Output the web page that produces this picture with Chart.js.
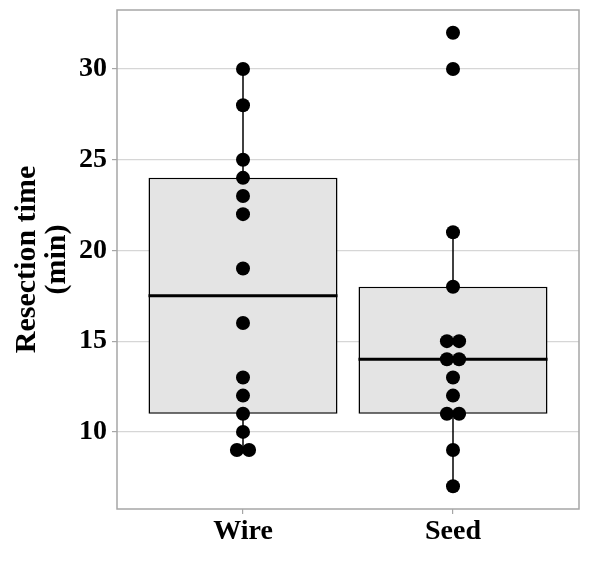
<!DOCTYPE html>
<html>
<head>
<meta charset="utf-8">
<script src="https://cdn.jsdelivr.net/npm/chart.js@4.4.1/dist/chart.umd.min.js"></script>
<style>
  body { margin: 0; background: #fff; }
  canvas { display: block; }
</style>
</head>
<body>
<canvas id="chart" width="590" height="561"></canvas>
<script>
const categories = ['Wire', 'Seed'];
const wireTimes = [30, 28, 25, 24, 23, 22, 19, 16, 13, 12, 11, 10, 9, 9];
const seedTimes = [32, 30, 21, 18, 15, 15, 14, 14, 13, 12, 11, 11, 9, 7];
const q1 = [11, 11];
const medians = [17.5, 14];
const q3 = [24, 18];
const whiskerLow = [9, 7];
const whiskerHigh = [30, 21];
const yTicks = [10, 15, 20, 25, 30];

const BOX_W = 0.9;
const DODGE = 0.058;
const FONT = 'Liberation Serif, Times New Roman, serif';

// dot positions: centre of group, duplicates spread side by side
function dotPoints(values, pos) {
    let pts = [];
    let counts = {};
    values.forEach(v => { counts[v] = (counts[v] || 0) + 1; });
    let seen = {};
    values.forEach(v => {
        let n = counts[v];
        let k = seen[v] || 0;
        seen[v] = k + 1;
        pts.push({x: pos + (k - (n - 1) / 2) * DODGE, y: v});
    });
    return pts;
}

let groups = [wireTimes, seedTimes];
let datasets = [];

categories.forEach((c, i) => {
    let pos = i + 1;
    datasets.push({
        type: 'line',
        data: [{x: pos, y: whiskerLow[i]}, {x: pos, y: whiskerHigh[i]}],
        borderColor: '#000',
        borderWidth: 1.5,
        pointRadius: 0,
        order: 4
    });
    datasets.push({
        type: 'line',
        data: [{x: pos - BOX_W / 2, y: medians[i]}, {x: pos + BOX_W / 2, y: medians[i]}],
        borderColor: '#000',
        borderWidth: 3,
        pointRadius: 0,
        order: 1
    });
    datasets.push({
        type: 'scatter',
        data: dotPoints(groups[i], pos),
        backgroundColor: '#000',
        borderColor: '#000',
        borderWidth: 0,
        pointRadius: 7,
        order: 0
    });
});

datasets.push({
    type: 'bar',
    data: categories.map((c, i) => ({x: i + 1, y: [q1[i], q3[i]]})),
    backgroundColor: '#e4e4e4',
    borderColor: '#000',
    borderWidth: 1.5,
    borderSkipped: false,
    barPercentage: BOX_W,
    categoryPercentage: 1,
    order: 2
});

const framePlugin = {
    id: 'frame',
    afterDraw(chart) {
        const a = chart.chartArea;
        const ctx = chart.ctx;
        ctx.save();
        ctx.strokeStyle = '#a6a6a6';
        ctx.lineWidth = 1.5;
        ctx.strokeRect(a.left, a.top, a.right - a.left, a.bottom - a.top);
        ctx.restore();
    }
};

new Chart(document.getElementById('chart').getContext('2d'), {
    type: 'bar',
    data: { datasets: datasets },
    plugins: [framePlugin],
    options: {
        responsive: false,
        animation: false,
        layout: { padding: { top: 10, right: 11, left: 0, bottom: 0 } },
        plugins: { legend: { display: false }, tooltip: { enabled: false } },
        scales: {
            x: {
                type: 'linear',
                min: 0.4,
                max: 2.6,
                offset: false,
                afterBuildTicks: s => { s.ticks = categories.map((c, i) => ({value: i + 1})); },
                afterFit: s => { s.height = 52; s.paddingLeft = 0; s.paddingRight = 0; },
                ticks: {
                    callback: v => categories[v - 1],
                    color: '#000',
                    font: { family: FONT, size: 28, weight: 'bold' },
                    padding: 1,
                    maxRotation: 0
                },
                grid: { offset: false, drawOnChartArea: false, drawTicks: true, tickLength: 5, tickColor: '#a6a6a6', lineWidth: 1.2 },
                border: { display: false }
            },
            y: {
                min: 5.75,
                max: 33.25,
                afterBuildTicks: s => { s.ticks = yTicks.map(v => ({value: v})); },
                afterFit: s => { s.width = 117; s.paddingTop = 0; s.paddingBottom = 0; },
                ticks: {
                    color: '#000',
                    font: { family: FONT, size: 28, weight: 'bold' },
                    padding: 5
                },
                grid: { color: '#d6d6d6', lineWidth: 1.2, tickLength: 5, tickColor: '#a6a6a6' },
                border: { display: false },
                title: {
                    display: true,
                    text: ['Resection time', '(min)'],
                    color: '#000',
                    font: { family: FONT, size: 30, weight: 'bold', lineHeight: 1 },
                    padding: { top: 12, bottom: 0 }
                }
            }
        }
    }
});
</script>
</body>
</html>
